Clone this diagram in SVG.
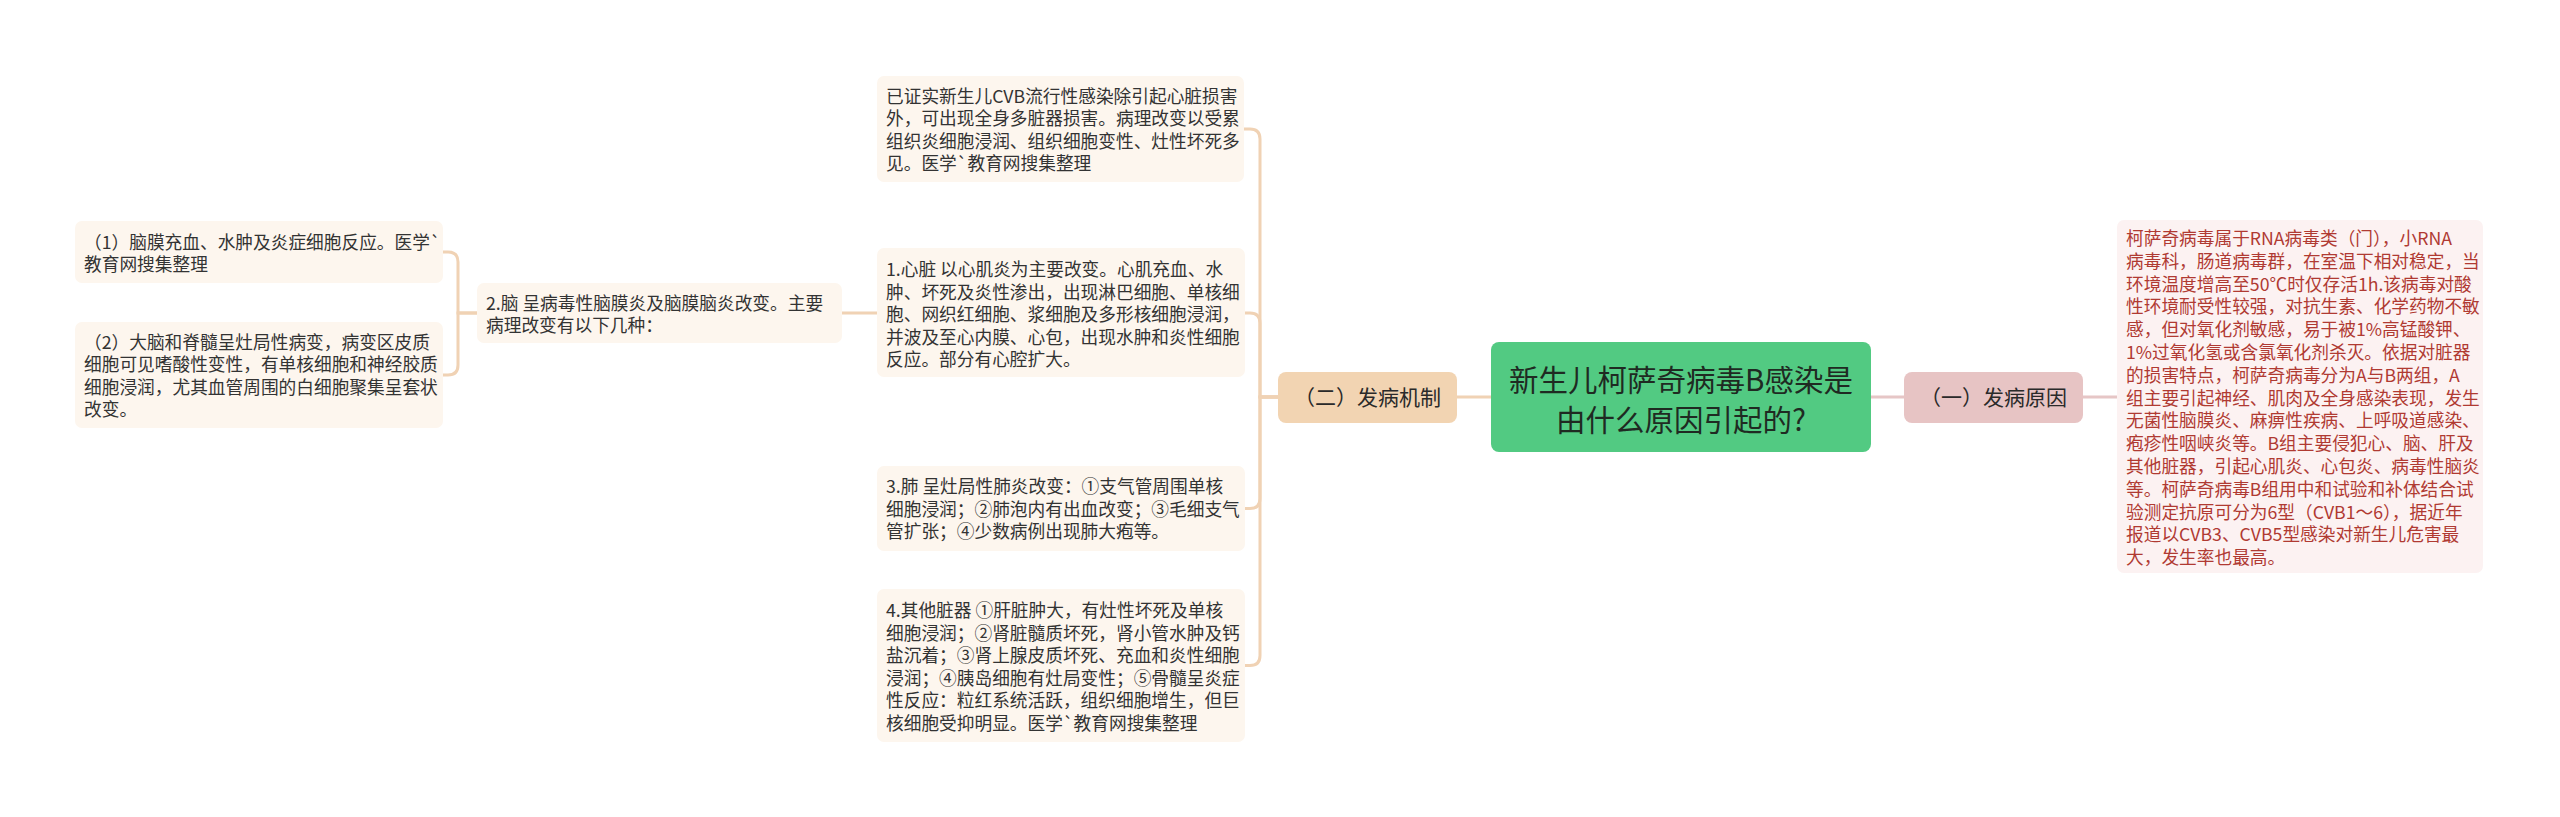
<svg xmlns="http://www.w3.org/2000/svg" width="2560" height="817" viewBox="0 0 2560 817">
<style>
text{font-family:"Noto Sans CJK SC","Noto Sans",sans-serif;}
.leaf{fill:#fdf6ee;}
.leafr{fill:#fcf2f2;}
.lt{font-size:17.7px;fill:#333333;}
.rt{font-size:17.7px;fill:#b03a32;}
.con{fill:none;stroke:#f0d2b4;stroke-width:3;}
.conr{fill:none;stroke:#e6c6c6;stroke-width:3;}
</style>
<rect width="2560" height="817" fill="#ffffff"/>
<g id="connectors">
<path class="con" d="M1491,397 H1457"/>
<path class="conr" d="M1871,397 H1904"/>
<path class="conr" d="M2083,397 H2117"/>
<path class="con" d="M1278,397 H1260 V139 Q1260,129 1250,129 H1244"/>
<path class="con" d="M1278,397 H1260 V323 Q1260,313 1250,313 H842"/>
<path class="con" d="M1278,397 H1260 V498.5 Q1260,508.5 1250,508.5 H1245"/>
<path class="con" d="M1278,397 H1260 V655.5 Q1260,665.5 1250,665.5 H1245"/>
<path class="con" d="M477,313 H458 V262 Q458,252 448,252 H443"/>
<path class="con" d="M477,313 H458 V365 Q458,375 448,375 H443"/>
</g>
<g id="root">
<rect x="1491" y="342" width="380" height="110" rx="8" fill="#52ca82"/>
<text x="1681" y="391" font-size="29.5" fill="#1f2a22" text-anchor="middle">新生儿柯萨奇病毒B感染是</text>
<text x="1681" y="431" font-size="29.5" fill="#1f2a22" text-anchor="middle">由什么原因引起的?</text>
</g>
<g id="branch-mechanism">
<rect x="1278" y="372" width="179" height="51" rx="8" fill="#f2d4b2"/>
<text x="1367.5" y="404.5" font-size="21" fill="#2a2a2a" text-anchor="middle">（二）发病机制</text>
</g>
<g id="branch-cause">
<rect x="1904" y="372" width="179" height="51" rx="8" fill="#e7c4c4"/>
<text x="1993.5" y="404.5" font-size="21" fill="#2a2a2a" text-anchor="middle">（一）发病原因</text>
</g>
<g id="leaf-cause">
<rect class="leafr" x="2117" y="220" width="366" height="353" rx="7"/>
<text class="rt" x="2126" y="245">柯萨奇病毒属于RNA病毒类（门），小RNA</text>
<text class="rt" x="2126" y="267.8">病毒科，肠道病毒群，在室温下相对稳定，当</text>
<text class="rt" x="2126" y="290.6">环境温度增高至50℃时仅存活1h.该病毒对酸</text>
<text class="rt" x="2126" y="313.4">性环境耐受性较强，对抗生素、化学药物不敏</text>
<text class="rt" x="2126" y="336.2">感，但对氧化剂敏感，易于被1%高锰酸钾、</text>
<text class="rt" x="2126" y="359">1%过氧化氢或含氯氧化剂杀灭。依据对脏器</text>
<text class="rt" x="2126" y="381.8">的损害特点，柯萨奇病毒分为A与B两组，A</text>
<text class="rt" x="2126" y="404.6">组主要引起神经、肌肉及全身感染表现，发生</text>
<text class="rt" x="2126" y="427.4">无菌性脑膜炎、麻痹性疾病、上呼吸道感染、</text>
<text class="rt" x="2126" y="450.2">疱疹性咽峡炎等。B组主要侵犯心、脑、肝及</text>
<text class="rt" x="2126" y="473">其他脏器，引起心肌炎、心包炎、病毒性脑炎</text>
<text class="rt" x="2126" y="495.8">等。柯萨奇病毒B组用中和试验和补体结合试</text>
<text class="rt" x="2126" y="518.6">验测定抗原可分为6型（CVB1～6），据近年</text>
<text class="rt" x="2126" y="541.4">报道以CVB3、CVB5型感染对新生儿危害最</text>
<text class="rt" x="2126" y="564.2">大，发生率也最高。</text>
</g>
<g id="leaf-a">
<rect class="leaf" x="877" y="76" width="367" height="106" rx="7"/>
<text class="lt" x="886" y="102.5">已证实新生儿CVB流行性感染除引起心脏损害</text>
<text class="lt" x="886" y="125">外，可出现全身多脏器损害。病理改变以受累</text>
<text class="lt" x="886" y="147.5">组织炎细胞浸润、组织细胞变性、灶性坏死多</text>
<text class="lt" x="886" y="170">见。医学`教育网搜集整理</text>
</g>
<g id="leaf-heart">
<rect class="leaf" x="877" y="248" width="368" height="129" rx="7"/>
<text class="lt" x="886" y="276" xml:space="preserve">1.心脏 以心肌炎为主要改变。心肌充血、水</text>
<text class="lt" x="886" y="298.5">肿、坏死及炎性渗出，出现淋巴细胞、单核细</text>
<text class="lt" x="886" y="321">胞、网织红细胞、浆细胞及多形核细胞浸润，</text>
<text class="lt" x="886" y="343.5">并波及至心内膜、心包，出现水肿和炎性细胞</text>
<text class="lt" x="886" y="366">反应。部分有心腔扩大。</text>
</g>
<g id="leaf-lung">
<rect class="leaf" x="877" y="466" width="368" height="85" rx="7"/>
<text class="lt" x="886" y="493" xml:space="preserve">3.肺 呈灶局性肺炎改变：①支气管周围单核</text>
<text class="lt" x="886" y="515.5">细胞浸润；②肺泡内有出血改变；③毛细支气</text>
<text class="lt" x="886" y="538">管扩张；④少数病例出现肺大疱等。</text>
</g>
<g id="leaf-other">
<rect class="leaf" x="877" y="589" width="368" height="153" rx="7"/>
<text class="lt" x="886" y="617" xml:space="preserve">4.其他脏器 ①肝脏肿大，有灶性坏死及单核</text>
<text class="lt" x="886" y="639.5">细胞浸润；②肾脏髓质坏死，肾小管水肿及钙</text>
<text class="lt" x="886" y="662">盐沉着；③肾上腺皮质坏死、充血和炎性细胞</text>
<text class="lt" x="886" y="684.5">浸润；④胰岛细胞有灶局变性；⑤骨髓呈炎症</text>
<text class="lt" x="886" y="707">性反应：粒红系统活跃，组织细胞增生，但巨</text>
<text class="lt" x="886" y="729.5">核细胞受抑明显。医学`教育网搜集整理</text>
</g>
<g id="leaf-brain">
<rect class="leaf" x="477" y="283" width="365" height="60" rx="7"/>
<text class="lt" x="486" y="309.5" xml:space="preserve">2.脑 呈病毒性脑膜炎及脑膜脑炎改变。主要</text>
<text class="lt" x="486" y="332">病理改变有以下几种：</text>
</g>
<g id="leaf-brain-1">
<rect class="leaf" x="75" y="221" width="368" height="62" rx="7"/>
<text class="lt" x="84" y="248.5">（1）脑膜充血、水肿及炎症细胞反应。医学`</text>
<text class="lt" x="84" y="271">教育网搜集整理</text>
</g>
<g id="leaf-brain-2">
<rect class="leaf" x="75" y="322" width="368" height="106" rx="7"/>
<text class="lt" x="84" y="348.5">（2）大脑和脊髓呈灶局性病变，病变区皮质</text>
<text class="lt" x="84" y="371">细胞可见嗜酸性变性，有单核细胞和神经胶质</text>
<text class="lt" x="84" y="393.5">细胞浸润，尤其血管周围的白细胞聚集呈套状</text>
<text class="lt" x="84" y="416">改变。</text>
</g>
</svg>
